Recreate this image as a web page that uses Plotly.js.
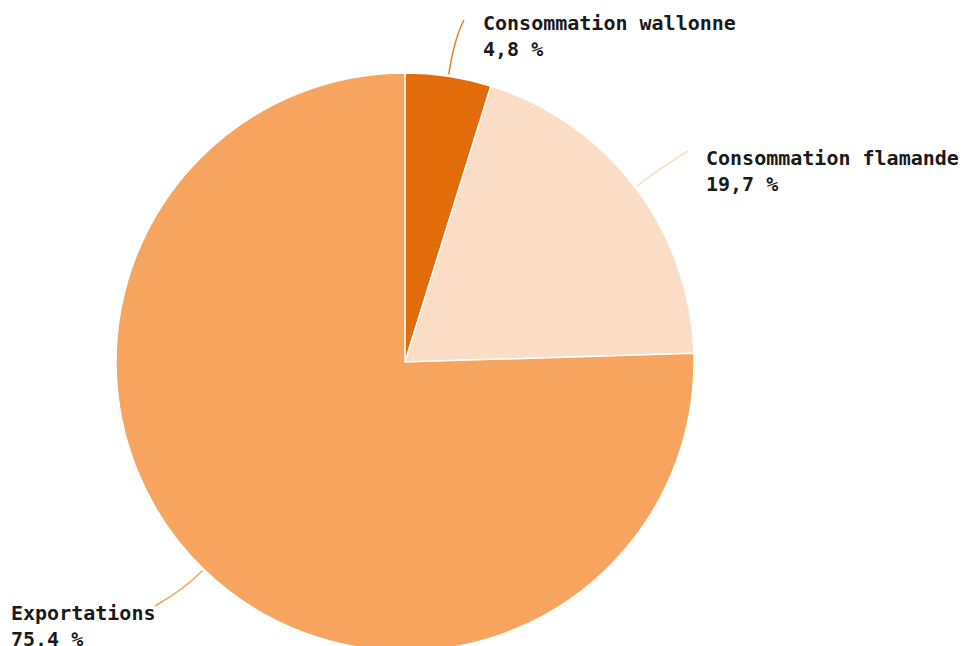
<!DOCTYPE html>
<html>
<head>
<meta charset="utf-8">
<script src="https://cdn.plot.ly/plotly-3.0.1.min.js"></script>
<style>
html,body{margin:0;padding:0;overflow:hidden;background:#fff;}
#chart{width:963px;height:700px;}
</style>
</head>
<body>
<div id="chart"></div>
<script>
const categories = ["Consommation wallonne", "Consommation flamande", "Exportations"];
const shares = [4.8, 19.7, 75.4];
const shareLabels = ["4,8 %", "19,7 %", "75,4 %"];
const colors = ["#E36C0A", "#FBDCC4", "#F6A45E"];

const W = 963, H = 700;
const cx = 405, cy = 362, R = 289;
const px = x => x / W;
const py = y => 1 - y / H;

// label anchor (top-left of text block) and leader end points
const labelPos = [[481, 9], [704, 144], [9, 599]];
const leaderEnd = [[464, 20], [688, 151], [155, 606]];
const ctrlLen = [36, 30, 26];

const total = shares.reduce((a, b) => a + b, 0);
let cum = 0;
const shapes = [], annotations = [];
shares.forEach((v, i) => {
  const mid = (cum + v / 2) / total * 2 * Math.PI;
  cum += v;
  const dx = Math.sin(mid), dy = -Math.cos(mid);
  const sx = cx + (R + 2) * dx, sy = cy + (R + 2) * dy;
  const qx = sx + ctrlLen[i] * dx, qy = sy + ctrlLen[i] * dy;
  const [ex, ey] = leaderEnd[i];
  shapes.push({
    type: "path", xref: "paper", yref: "paper",
    path: `M ${px(sx)},${py(sy)} Q ${px(qx)},${py(qy)} ${px(ex)},${py(ey)}`,
    line: {color: i === 0 ? "#E87A2C" : colors[i], width: 1.5}
  });
  annotations.push({
    xref: "paper", yref: "paper", x: px(labelPos[i][0]), y: py(labelPos[i][1]),
    xanchor: "left", yanchor: "top", align: "left", showarrow: false,
    text: "<b>" + categories[i] + "</b><br><b>" + shareLabels[i] + "</b>",
    font: {family: "DejaVu Sans Mono", size: 20, color: "#1a1a1a"}
  });
});

const data = [{
  type: "pie",
  labels: categories,
  values: shares,
  sort: false,
  direction: "clockwise",
  rotation: 0,
  marker: {colors: colors, line: {color: "#ffffff", width: 1.5}},
  textinfo: "none",
  hoverinfo: "label+percent",
  showlegend: false,
  domain: {x: [px(cx - R), px(cx + R)], y: [py(cy + R), py(cy - R)]}
}];

const layout = {
  width: W, height: H,
  margin: {l: 0, r: 0, t: 0, b: 0},
  paper_bgcolor: "#ffffff",
  showlegend: false,
  shapes: shapes,
  annotations: annotations
};

Plotly.newPlot("chart", data, layout, {displayModeBar: false, staticPlot: true});
</script>
</body>
</html>
